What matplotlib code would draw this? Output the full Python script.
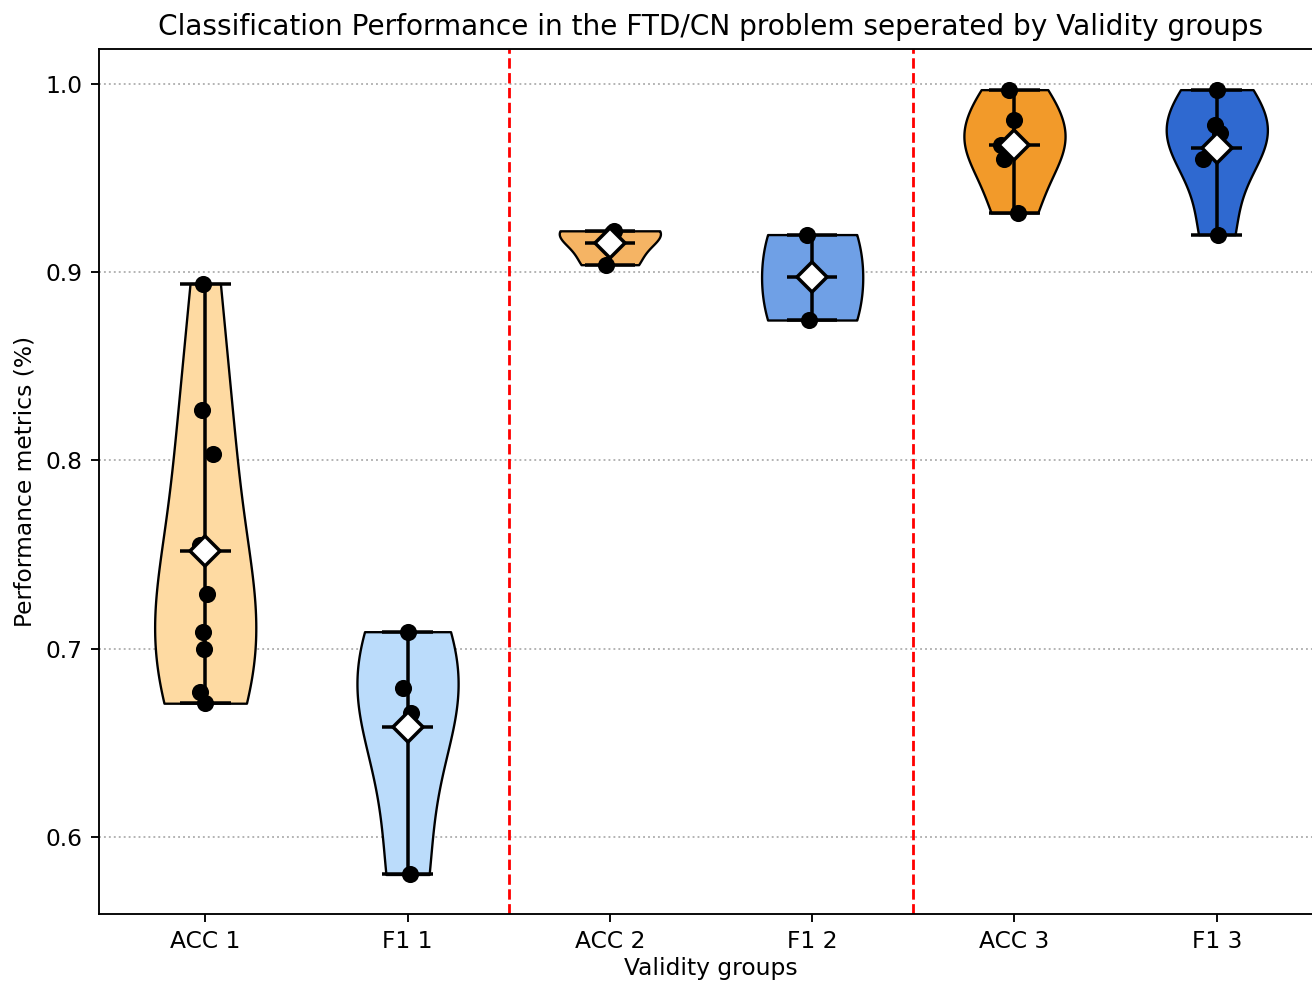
import numpy as np
import matplotlib
matplotlib.use("Agg")
import matplotlib.pyplot as plt

# metric values per validity group
labels = ['ACC 1', 'F1 1', 'ACC 2', 'F1 2', 'ACC 3', 'F1 3']
acc1 = [0.894, 0.827, 0.8035, 0.755, 0.729, 0.709, 0.700, 0.677, 0.671]
f1_1 = [0.709, 0.679, 0.666, 0.580]
acc2 = [0.922, 0.921, 0.904]
f1_2 = [0.920, 0.8746]
acc3 = [0.997, 0.981, 0.9676, 0.960, 0.9315]
f1_3 = [0.997, 0.978, 0.974, 0.960, 0.920]
groups = [acc1, f1_1, acc2, f1_2, acc3, f1_3]

# horizontal jitter of the dots (data units)
jitter = [
    [-0.01, -0.015, 0.04, -0.025, 0.01, -0.01, -0.005, -0.025, 0.0],
    [0.0, -0.02, 0.015, 0.01],
    [0.02, 0.01, -0.02],
    [-0.025, -0.015],
    [-0.025, 0.0, -0.065, -0.05, 0.015],
    [0.0, -0.01, 0.015, -0.07, 0.005],
]

colors = ['#fedaa2', '#bbdcfb', '#f5b464', '#6fa0e6', '#f29a2a', '#2f69d0']

fig = plt.figure(figsize=(1312 / 168, 982 / 168), dpi=168)
# axes runs a little past the right edge, like the cropped original
ax = fig.add_axes([99 / 1312, 68 / 982, 1224 / 1312, 865 / 982])

pos = np.arange(1, len(groups) + 1)
parts = ax.violinplot(groups, positions=pos, showmeans=True, showextrema=True)
for body, c in zip(parts['bodies'], colors):
    body.set_facecolor(c)
    body.set_edgecolor('black')
    body.set_alpha(1)
for key in ['cbars', 'cmins', 'cmaxes', 'cmeans']:
    parts[key].set_color('black')

for p, vals, jit in zip(pos, groups, jitter):
    ax.scatter(p + np.array(jit), vals, color='black', s=40, zorder=3)
    ax.plot(p, np.mean(vals), marker='D', markersize=9, markerfacecolor='white',
            markeredgecolor='black', markeredgewidth=1.5, zorder=4)

ax.axvline(2.5, color='red', linestyle='--', linewidth=1.2)
ax.axvline(4.5, color='red', linestyle='--', linewidth=1.2)

ax.yaxis.grid(True, linestyle=':', color='#b0b0b0')
ax.set_axisbelow(True)

ax.set_xticks(pos)
ax.set_xticklabels(labels)
ax.set_xlim(0.475, 6.525)
ax.set_ylim(0.559, 1.0186)
ax.set_xlabel('Validity groups', labelpad=1.5)
ax.set_ylabel('Performance metrics (%)')
ax.set_title('Classification Performance in the FTD/CN problem seperated by Validity groups')

fig.savefig('out.png', dpi=168)
